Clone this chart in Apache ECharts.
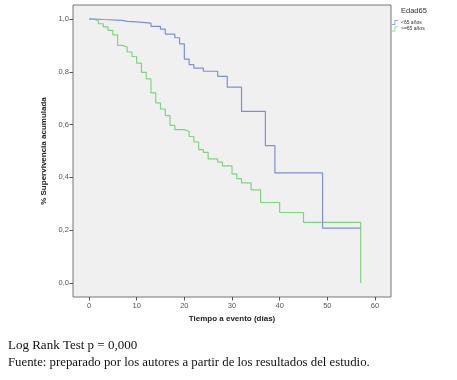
<!DOCTYPE html>
<html>
<head>
<meta charset="utf-8">
<script src="https://cdn.jsdelivr.net/npm/echarts@6/dist/echarts.min.js"></script>
<style>
html,body{margin:0;padding:0;background:#fff;}
#c{width:457px;height:380px;}
</style>
</head>
<body>
<div id="c"></div>
<script>
// Kaplan-Meier curves: value holds from time[i] to time[i+1]
const seriesNames = ['<65 años', '>=65 años'];
const youngTimes = [0, 1, 3, 7, 8, 10, 13, 15, 16, 18, 19, 20, 21, 22, 24, 27, 29, 32, 37, 39, 49, 57];
const youngSurv  = [1.0, 0.998, 0.995, 0.991, 0.989, 0.984, 0.972, 0.962, 0.943, 0.929, 0.906, 0.848, 0.827, 0.814, 0.802, 0.783, 0.742, 0.650, 0.520, 0.417, 0.208, 0.208];
const oldTimes = [0, 1, 2, 3, 4, 5, 6, 7, 8, 9, 10, 11, 12, 13, 14, 15, 16, 17, 18, 20, 21, 22, 23, 24, 25, 27, 28, 30, 31, 32, 34, 36, 40, 45, 57];
const oldSurv  = [1.0, 0.993, 0.982, 0.970, 0.957, 0.940, 0.900, 0.894, 0.875, 0.858, 0.833, 0.798, 0.773, 0.720, 0.682, 0.659, 0.634, 0.597, 0.581, 0.574, 0.555, 0.534, 0.505, 0.495, 0.470, 0.458, 0.444, 0.413, 0.395, 0.379, 0.353, 0.305, 0.267, 0.230, 0.0];
const xTicks = [0, 10, 20, 30, 40, 50, 60];
const yTicks = [0, 0.2, 0.4, 0.6, 0.8, 1.0];
const legendTitle = 'Edad65';
const xTitle = 'Tiempo a evento (días)';
const yTitle = '% Supervivencia acumulada';
const note1 = 'Log Rank Test p = 0,000';
const note2 = 'Fuente: preparado por los autores a partir de los resultados del estudio.';

const chart = echarts.init(document.getElementById('c'), null, {renderer: 'canvas'});
const pair = (ts, vs) => ts.map((t, i) => [t, vs[i]]);
const stepIcon = 'path://M0,8.5 L5,8.5 L5,0 L12,0 L12,1.5 L6.5,1.5 L6.5,10 L0,10 Z';
const labelFont = {fontFamily: 'Liberation Sans', fontSize: 7.5, color: '#555'};

chart.setOption({
  animation: false,
  backgroundColor: '#ffffff',
  title: [
    {text: legendTitle, left: 401, top: 7, textStyle: {fontFamily: 'Liberation Sans', fontSize: 7.5, fontWeight: 'normal', color: '#333'}, padding: 0},
    {text: note1, left: 8, top: 339, textStyle: {fontFamily: 'Liberation Serif', fontSize: 13, fontWeight: 'normal', color: '#111'}, padding: 0},
    {text: note2, left: 8, top: 356, textStyle: {fontFamily: 'Liberation Serif', fontSize: 12.8, fontWeight: 'normal', color: '#111'}, padding: 0}
  ],
  legend: {
    orient: 'vertical',
    left: 392, top: 20,
    padding: 0,
    itemWidth: 8, itemHeight: 5, itemGap: 1.5,
    icon: stepIcon,
    textStyle: {fontFamily: 'Liberation Sans', fontSize: 5, color: '#333', padding: [0, 0, 0, -3]},
    data: seriesNames
  },
  grid: {
    left: 73, top: 5, right: 66, bottom: 83,
    show: true, backgroundColor: '#f0f0f0', borderColor: '#777', borderWidth: 1
  },
  xAxis: {
    type: 'value', min: -3.36, max: 63.36,
    name: xTitle, nameLocation: 'middle', nameGap: 18,
    nameTextStyle: {fontFamily: 'Liberation Sans', fontSize: 8, fontWeight: 'bold', color: '#222'},
    axisLine: {show: false, onZero: false},
    splitLine: {show: false},
    axisTick: {show: true, inside: false, length: 3.5, lineStyle: {color: '#555'}, customValues: xTicks},
    axisLabel: Object.assign({margin: 5, customValues: xTicks, formatter: v => String(v)}, labelFont)
  },
  yAxis: {
    type: 'value', min: -0.053, max: 1.053,
    name: yTitle, nameLocation: 'middle', nameGap: 19, nameRotate: 90,
    nameTextStyle: {fontFamily: 'Liberation Sans', fontSize: 8, fontWeight: 'bold', color: '#222'},
    axisLine: {show: false, onZero: false},
    splitLine: {show: false},
    axisTick: {show: true, inside: false, length: 3.5, lineStyle: {color: '#555'}, customValues: yTicks},
    axisLabel: Object.assign({margin: 4, customValues: yTicks, formatter: v => v.toFixed(1).replace('.', ',')}, labelFont)
  },
  series: [
    {name: seriesNames[0], type: 'line', step: 'end', showSymbol: false, symbol: 'none',
     lineStyle: {color: '#7f8fd0', width: 1.2}, itemStyle: {color: '#7f8fd0'},
     data: pair(youngTimes, youngSurv), z: 3},
    {name: seriesNames[1], type: 'line', step: 'end', showSymbol: false, symbol: 'none',
     lineStyle: {color: '#7fd47f', width: 1.2}, itemStyle: {color: '#7fd47f'},
     data: pair(oldTimes, oldSurv), z: 2}
  ]
});
</script>
</body>
</html>
